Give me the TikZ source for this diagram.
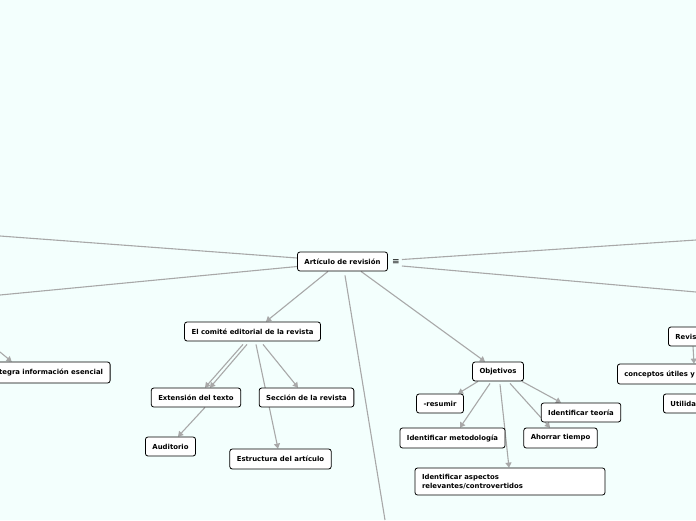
\documentclass[tikz,border=0pt]{standalone}
\usepackage{fontspec}
\setmainfont{DejaVu Sans}
\usetikzlibrary{positioning,arrows.meta,backgrounds}
\definecolor{bgmint}{RGB}{243,255,253}
\definecolor{linkgray}{RGB}{168,168,168}

\begin{document}
\begin{tikzpicture}[x=1pt, y=-1pt,
    every node/.style={font=\fontsize{6.9}{8.6}\selectfont\bfseries, align=center},
    topic/.style={rectangle, draw=black, line width=0.8pt, fill=white, rounded corners=2.5pt, minimum height=19pt, inner xsep=7pt},
    link/.style={draw=linkgray, line width=1.1pt},
    arr/.style={link, -{Triangle[width=6pt,length=5pt]}}
]
\useasboundingbox (0,0) rectangle (696,520);

% Central topic
\node[topic] (root) at (342.5,261.5) {Artículo de revisión};
\node[font=\fontsize{9}{10}\selectfont\mdseries, inner sep=1pt] (menu) at (396,262) {≡};

% Left branch
\node[topic, anchor=east, minimum height=21pt] (integra) at (110.5,372.5) {tegra información esencial};
\node[topic] (comite) at (252.5,331.5) {El comité editorial de la revista};
\node[topic] (extension) at (196,397.5) {Extensión del texto};
\node[topic] (seccion) at (306.5,397.5) {Sección de la revista};
\node[topic] (auditorio) at (170.5,446.5) {Auditorio};
\node[topic, minimum height=20pt] (estructura) at (280.5,459) {Estructura del artículo};

% Objetivos
\node[topic] (objetivos) at (498,371.5) {Objetivos};
\node[topic] (resumir) at (440,403.5) {-resumir};
\node[topic, minimum height=20pt] (metodologia) at (452.5,438) {Identificar metodología};
\node[topic, minimum height=20pt] (ahorrar) at (560.5,438) {Ahorrar tiempo};
\node[topic] (teoria) at (581,412.5) {Identificar teoría};
\node[topic, text width=176pt, align=left, minimum height=27pt] (aspectos) at (510,481.5) {Identificar aspectos\\relevantes/controvertidos};

% Right branch (cut by the edge)
\node[topic, anchor=west, text width=60pt, align=left] (revis) at (668,336.5) {Revis};
\node[topic, anchor=west, text width=110pt, align=left, minimum height=20pt] (conceptos) at (617,374) {conceptos útiles y};
\node[topic, anchor=west, text width=60pt, align=left] (utilidad) at (663,403.5) {Utilida};

% Free ends at the border
\coordinate (offW1) at (0,236);
\coordinate (offW2) at (0,295);
\coordinate (offW3) at (0,352);
\coordinate (offE1) at (696,240);
\coordinate (offE2) at (696,292);
\coordinate (offS) at (385,520);

\begin{pgfonlayer}{background}
\fill[bgmint] (0,0) rectangle (696,520);
% Connectors
\draw[link] ([yshift=3.5pt]root.west) -- (offW1);
\draw[link] ([yshift=-5pt]root.west) -- (offW2);
\draw[link] ([xshift=1pt,yshift=2.5pt]menu.east) -- (offE1);
\draw[link] ([xshift=1pt,yshift=-4pt]menu.east) -- (offE2);
\draw[arr] (offW3) -- ([xshift=20pt]integra.north west);
\draw[arr] ([xshift=-14.5pt]root.south) -- ([xshift=13.5pt]comite.north);
\draw[link] ([xshift=2.5pt,yshift=-4pt]root.south) -- (offS);
\draw[arr] ([xshift=18.5pt]root.south) -- ([xshift=-13pt]objetivos.north);
\draw[arr] ([xshift=-9.5pt,yshift=-3pt]comite.south) -- ([xshift=9pt]extension.north);
\draw[arr] ([xshift=-5.5pt,yshift=-3pt]comite.south) -- ([xshift=14pt]extension.north);
\draw[arr] ([xshift=10.5pt,yshift=-3pt]comite.south) -- ([xshift=-8.5pt]seccion.north);
\draw[arr] ([xshift=3.5pt,yshift=-3pt]comite.south) -- ([xshift=-2.5pt]estructura.north);
\draw[arr] ([xshift=9pt]extension.south) -- ([xshift=7.5pt]auditorio.north);
\draw[arr] ([xshift=-20pt]objetivos.south) -- ([xshift=18pt]resumir.north);
\draw[arr] ([xshift=-8pt,yshift=-2pt]objetivos.south) -- ([xshift=7.5pt]metodologia.north);
\draw[arr] ([xshift=2pt,yshift=-3pt]objetivos.south) -- ([xshift=-1pt]aspectos.north);
\draw[arr] ([xshift=12pt,yshift=-2pt]objetivos.south) -- ([xshift=-10.5pt]ahorrar.north);
\draw[arr] ([xshift=24pt]objetivos.south) -- ([xshift=-20pt]teoria.north);
\draw[arr] ([xshift=25pt]revis.south west) -- ([xshift=77pt]conceptos.north west);
\end{pgfonlayer}
\end{tikzpicture}
\end{document}
